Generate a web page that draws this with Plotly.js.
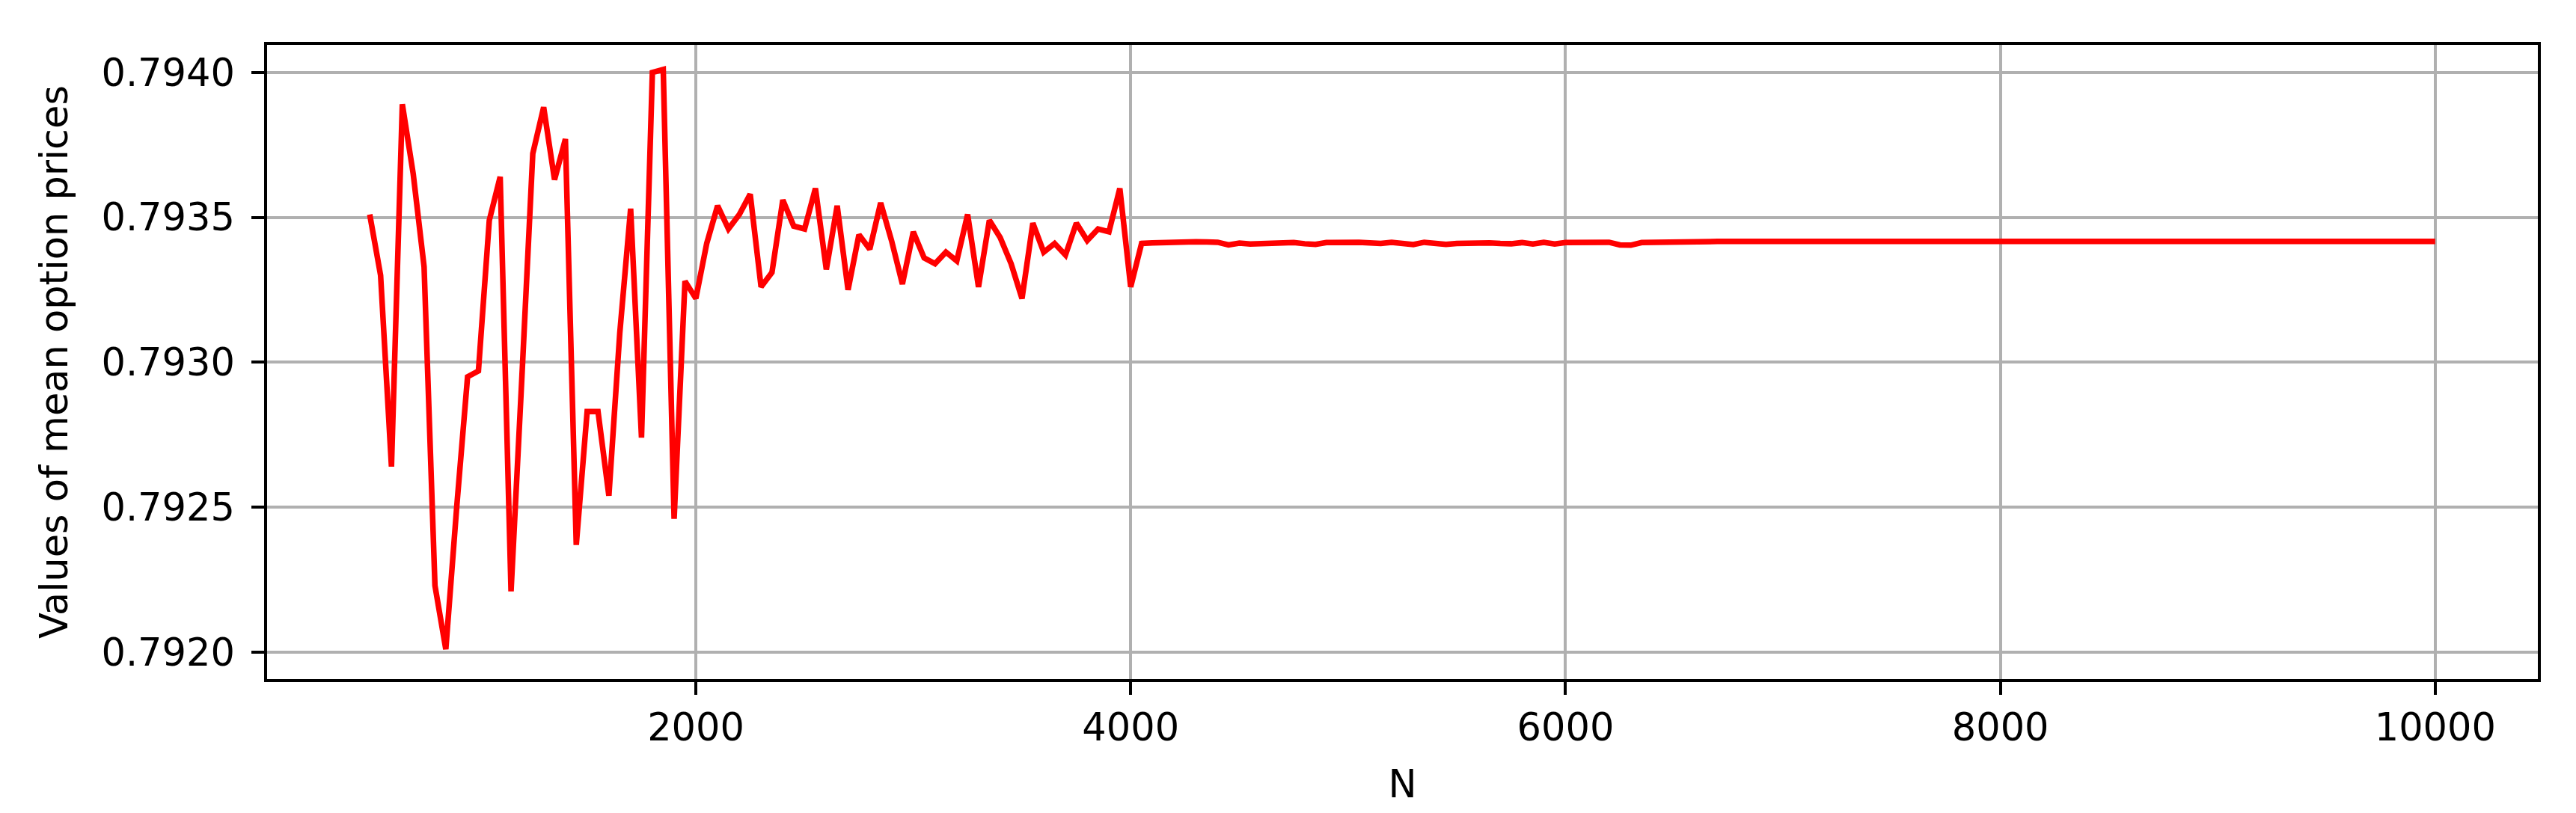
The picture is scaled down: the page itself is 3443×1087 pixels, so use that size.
<!DOCTYPE html>
<html>
<head>
<meta charset="utf-8">
<script src="https://cdn.plot.ly/plotly-3.0.1.min.js"></script>
<style>
  html, body { margin: 0; padding: 0; background: #ffffff; }
  #chart { width: 3443px; height: 1087px; }
</style>
</head>
<body>
<div id="chart"></div>
<script>
// Sample sizes N (step 50)
var sampleN = [
  500, 550, 600, 650, 700, 750, 800, 850, 900, 950,
  1000, 1050, 1100, 1150, 1200, 1250, 1300, 1350, 1400, 1450,
  1500, 1550, 1600, 1650, 1700, 1750, 1800, 1850, 1900, 1950,
  2000, 2050, 2100, 2150, 2200, 2250, 2300, 2350, 2400, 2450,
  2500, 2550, 2600, 2650, 2700, 2750, 2800, 2850, 2900, 2950,
  3000, 3050, 3100, 3150, 3200, 3250, 3300, 3350, 3400, 3450,
  3500, 3550, 3600, 3650, 3700, 3750, 3800, 3850, 3900, 3950,
  4000, 4050, 4100, 4150, 4200, 4250, 4300, 4350, 4400, 4450,
  4500, 4550, 4600, 4650, 4700, 4750, 4800, 4850, 4900, 4950,
  5000, 5050, 5100, 5150, 5200, 5250, 5300, 5350, 5400, 5450,
  5500, 5550, 5600, 5650, 5700, 5750, 5800, 5850, 5900, 5950,
  6000, 6050, 6100, 6150, 6200, 6250, 6300, 6350, 6400, 6450,
  6500, 6550, 6600, 6650, 6700, 6750, 6800, 6850, 6900, 6950,
  7000, 7050, 7100, 7150, 7200, 7250, 7300, 7350, 7400, 7450,
  7500, 7550, 7600, 7650, 7700, 7750, 7800, 7850, 7900, 7950,
  8000, 8050, 8100, 8150, 8200, 8250, 8300, 8350, 8400, 8450,
  8500, 8550, 8600, 8650, 8700, 8750, 8800, 8850, 8900, 8950,
  9000, 9050, 9100, 9150, 9200, 9250, 9300, 9350, 9400, 9450,
  9500, 9550, 9600, 9650, 9700, 9750, 9800, 9850, 9900, 9950,
  10000
];

// Mean option price for each N
var meanPrice = [
  0.79351, 0.79330, 0.79264, 0.79389, 0.79365, 0.79333, 0.79223, 0.79201, 0.79250, 0.79295,
  0.79297, 0.79349, 0.79364, 0.79221, 0.79295, 0.79372, 0.79388, 0.79363, 0.79377, 0.79237,
  0.79283, 0.79283, 0.79254, 0.79310, 0.79353, 0.79274, 0.79400, 0.79401, 0.79246, 0.79328,
  0.79322, 0.79341, 0.79354, 0.79346, 0.79351, 0.79358, 0.79326, 0.79331, 0.79356, 0.79347,
  0.79346, 0.79360, 0.79332, 0.79354, 0.79325, 0.79344, 0.79339, 0.79355, 0.79342, 0.79327,
  0.79345, 0.79336, 0.79334, 0.79338, 0.79335, 0.79351, 0.79326, 0.79349, 0.79343, 0.79334,
  0.79322, 0.79348, 0.79338, 0.79341, 0.79337, 0.79348, 0.79342, 0.79346, 0.79345, 0.79360,
  0.79326, 0.793410, 0.793412, 0.793414, 0.793414, 0.793415, 0.793416, 0.793415, 0.793414, 0.793405,
  0.793411, 0.793408, 0.793410, 0.793412, 0.793414, 0.793413, 0.793409, 0.793407, 0.793413, 0.793414,
  0.793415, 0.793414, 0.793412, 0.793410, 0.793414, 0.793410, 0.793406, 0.793414, 0.793410, 0.793407,
  0.793410, 0.793412, 0.793412, 0.793412, 0.793410, 0.793409, 0.793413, 0.793408, 0.793414, 0.793408,
  0.793413, 0.793414, 0.793412, 0.793413, 0.793414, 0.793405, 0.793404, 0.793413, 0.793414, 0.793416,
  0.793417, 0.793417, 0.793417, 0.793417, 0.793417, 0.793417, 0.793417, 0.793417, 0.793417, 0.793417,
  0.793417, 0.793417, 0.793417, 0.793417, 0.793417, 0.793417, 0.793417, 0.793417, 0.793417, 0.793417,
  0.793417, 0.793417, 0.793417, 0.793417, 0.793417, 0.793417, 0.793417, 0.793417, 0.793417, 0.793417,
  0.793417, 0.793417, 0.793417, 0.793417, 0.793417, 0.793417, 0.793417, 0.793417, 0.793417, 0.793417,
  0.793417, 0.793417, 0.793417, 0.793417, 0.793417, 0.793417, 0.793417, 0.793417, 0.793417, 0.793417,
  0.793417, 0.793417, 0.793417, 0.793417, 0.793417, 0.793417, 0.793417, 0.793417, 0.793417, 0.793417,
  0.793417, 0.793417, 0.793417, 0.793417, 0.793417, 0.793417, 0.793417, 0.793417, 0.793417, 0.793417,
  0.793417
];

// Tick labels
var xTicks = [2000, 4000, 6000, 8000, 10000];
var yTicks = [0.7920, 0.7925, 0.7930, 0.7935, 0.7940];
var yTickText = ["0.7920", "0.7925", "0.7930", "0.7935", "0.7940"];

var traces = [
  {
    x: sampleN,
    y: meanPrice,
    type: "scatter",
    mode: "lines",
    line: { color: "#ff0000", width: 7.5 },
    hoverinfo: "skip"
  }
];

var axisStyle = {
  showline: true,
  mirror: true,
  linecolor: "#000000",
  linewidth: 3.9,
  showgrid: true,
  gridcolor: "#b0b0b0",
  gridwidth: 3.9,
  zeroline: false,
  ticks: "outside",
  ticklen: 17,
  tickwidth: 3.9,
  tickcolor: "#000000",
  tickfont: { family: "DejaVu Sans", size: 51, color: "#000000" }
};

var layout = {
  width: 3443,
  height: 1087,
  margin: { l: 357, r: 51, t: 60, b: 179 },
  paper_bgcolor: "#ffffff",
  plot_bgcolor: "#ffffff",
  showlegend: false,
  font: { family: "DejaVu Sans", size: 51, color: "#000000" },
  xaxis: Object.assign({}, axisStyle, {
    range: [28, 10472],
    tickmode: "array",
    tickvals: xTicks,
    ticktext: xTicks.map(String),
    title: { text: "N", font: { family: "DejaVu Sans", size: 51, color: "#000000" }, standoff: 30 }
  }),
  yaxis: Object.assign({}, axisStyle, {
    range: [0.791907, 0.794095],
    tickmode: "array",
    tickvals: yTicks,
    ticktext: yTickText,
    ticklabelstandoff: 12,
    title: { text: "Values of mean option prices", font: { family: "DejaVu Sans", size: 51, color: "#000000" }, standoff: 30 }
  })
};

Plotly.newPlot("chart", traces, layout, { staticPlot: true, displayModeBar: false });
</script>
</body>
</html>
